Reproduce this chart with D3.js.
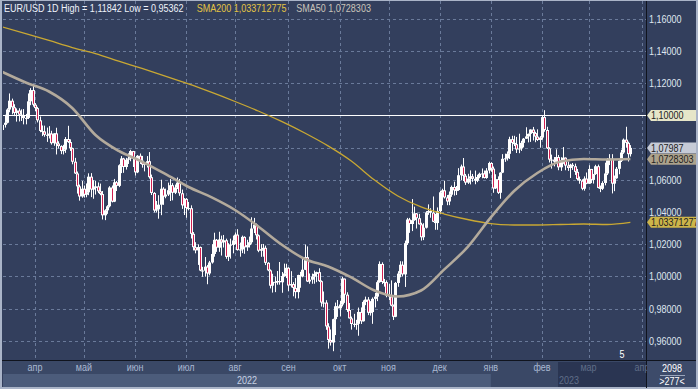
<!DOCTYPE html>
<html>
<head>
<meta charset="utf-8">
<script src="https://cdn.jsdelivr.net/npm/d3@7"></script>
<style>
html, body { margin: 0; padding: 0; background: #aab4c8; }
svg { display: block; font-family: "Liberation Sans", Arial, sans-serif; font-size: 11px; }
</style>
</head>
<body>
<svg width="698" height="389"></svg>
<script>
// EUR/USD daily, one row per week (Mon..Fri), from 14 Mar 2022
var open = [
	1.0910,1.0942,1.0955,1.1037,1.1092, 1.1051,1.1016,1.1031,1.1005,1.0997, 1.0984,1.0985,1.1088,1.1158,1.1067,
	1.1046,1.0970,1.0904,1.0901,1.0880, 1.0877,1.0888,1.0828,1.0889,1.0826, 1.0810,1.0779,1.0788,1.0854,1.0835,
	1.0797,1.0713,1.0640,1.0560,1.0497, 1.0545,1.0508,1.0523,1.0620,1.0540, 1.0550,1.0560,1.0529,1.0512,1.0380,
	1.0411,1.0436,1.0553,1.0465,1.0585, 1.0563,1.0691,1.0733,1.0680,1.0725, 1.0733,1.0779,1.0733,1.0647,1.0750,
	1.0719,1.0695,1.0703,1.0716,1.0617, 1.0519,1.0410,1.0417,1.0446,1.0545, 1.0497,1.0509,1.0536,1.0567,1.0520,
	1.0553,1.0583,1.0517,1.0442,1.0482, 1.0425,1.0424,1.0265,1.0182,1.0162, 1.0183,1.0037,1.0036,1.0061,1.0019,
	1.0087,1.0140,1.0228,1.0179,1.0230, 1.0212,1.0225,1.0122,1.0198,1.0196, 1.0224,1.0260,1.0164,1.0168,1.0246,
	1.0181,1.0195,1.0213,1.0298,1.0322, 1.0256,1.0160,1.0170,1.0178,1.0085, 1.0038,0.9943,0.9967,0.9967,0.9972,
	0.9964,1.0003,1.0019,1.0054,0.9944, 0.9953,0.9929,0.9903,1.0009,1.0001, 1.0042,1.0120,0.9969,0.9980,0.9999,
	1.0016,1.0027,0.9971,0.9838,0.9838, 0.9690,0.9606,0.9590,0.9735,0.9815, 0.9802,0.9826,0.9987,0.9887,0.9792,
	0.9740,0.9705,0.9706,0.9706,0.9780, 0.9722,0.9842,0.9857,0.9775,0.9779, 0.9861,0.9875,0.9965,1.0078,0.9966,
	0.9965,0.9882,0.9876,0.9819,0.9750, 0.9960,1.0018,1.0073,1.0013,1.0207, 1.0354,1.0326,1.0350,1.0392,1.0362,
	1.0324,1.0244,1.0303,1.0397,1.0407, 1.0397,1.0340,1.0332,1.0406,1.0523, 1.0535,1.0491,1.0466,1.0508,1.0556,
	1.0535,1.0537,1.0629,1.0683,1.0626, 1.0583,1.0608,1.0622,1.0607,1.0595, 1.0618,1.0638,1.0640,1.0612,1.0658,
	1.0705,1.0670,1.0547,1.0605,1.0520, 1.0645,1.0731,1.0734,1.0762,1.0853, 1.0830,1.0822,1.0789,1.0795,1.0830,
	1.0856,1.0870,1.0886,1.0913,1.0891, 1.0869,1.0848,1.0863,1.0990,1.0910, 1.0796,1.0726,1.0726,1.0713,1.0742,
	1.0678,1.0723,1.0738,1.0689,1.0674, 1.0694,1.0685,1.0650,1.0605,1.0595, 1.0545,1.0608,1.0576,1.0668,1.0600,
	1.0636,1.0685,1.0550,1.0545,1.0581, 1.0640,1.0730,1.0732,1.0577,1.0610, 1.0669,1.0718,1.0770,1.0850,1.0830,
	1.0760
];
var high = [
	1.0985,1.1005,1.1045,1.1137,1.1105, 1.1070,1.1044,1.1045,1.1038,1.1040, 1.1010,1.1137,1.1170,1.1184,1.1077,
	1.1054,1.0994,1.0938,1.0937,1.0925, 1.0934,1.0905,1.0890,1.0924,1.0840, 1.0815,1.0818,1.0866,1.0936,1.0852,
	1.0800,1.0737,1.0652,1.0571,1.0593, 1.0565,1.0578,1.0641,1.0642,1.0598, 1.0593,1.0584,1.0577,1.0531,1.0418,
	1.0443,1.0561,1.0565,1.0606,1.0593, 1.0697,1.0748,1.0737,1.0737,1.0765, 1.0787,1.0780,1.0737,1.0754,1.0764,
	1.0749,1.0710,1.0748,1.0773,1.0633, 1.0524,1.0469,1.0505,1.0601,1.0555, 1.0546,1.0583,1.0606,1.0580,1.0571,
	1.0615,1.0606,1.0540,1.0487,1.0487, 1.0463,1.0442,1.0276,1.0213,1.0200, 1.0186,1.0060,1.0121,1.0072,1.0097,
	1.0201,1.0272,1.0233,1.0278,1.0254, 1.0258,1.0235,1.0207,1.0235,1.0254, 1.0274,1.0294,1.0211,1.0254,1.0250,
	1.0228,1.0248,1.0368,1.0364,1.0329, 1.0261,1.0201,1.0202,1.0192,1.0089, 1.0044,1.0017,0.9999,1.0034,1.0090,
	1.0028,1.0080,1.0079,1.0058,1.0033, 0.9965,0.9990,1.0011,1.0029,1.0113, 1.0198,1.0187,1.0019,1.0018,1.0037,
	1.0030,1.0051,0.9976,0.9907,0.9853, 0.9710,0.9671,0.9738,0.9838,0.9854, 0.9849,0.9999,0.9987,0.9902,0.9835,
	0.9751,0.9768,0.9731,0.9807,0.9808, 0.9852,0.9875,0.9872,0.9847,0.9870, 0.9898,0.9976,1.0094,1.0088,0.9985,
	0.9976,0.9953,0.9976,0.9826,0.9966, 1.0033,1.0095,1.0094,1.0223,1.0364, 1.0364,1.0481,1.0434,1.0394,1.0389,
	1.0334,1.0331,1.0406,1.0448,1.0424, 1.0497,1.0389,1.0429,1.0533,1.0545, 1.0595,1.0506,1.0528,1.0565,1.0589,
	1.0562,1.0673,1.0695,1.0736,1.0637, 1.0638,1.0659,1.0637,1.0658,1.0632, 1.0645,1.0671,1.0658,1.0673,1.0713,
	1.0710,1.0683,1.0635,1.0622,1.0648, 1.0760,1.0763,1.0777,1.0868,1.0874, 1.0874,1.0867,1.0887,1.0843,1.0860,
	1.0927,1.0888,1.0914,1.0929,1.0899, 1.0914,1.0872,1.1000,1.1033,1.0930, 1.0803,1.0757,1.0742,1.0790,1.0755,
	1.0741,1.0804,1.0740,1.0714,1.0700, 1.0705,1.0701,1.0668,1.0621,1.0604, 1.0622,1.0646,1.0691,1.0668,1.0637,
	1.0694,1.0695,1.0565,1.0592,1.0707, 1.0736,1.0760,1.0760,1.0627,1.0680, 1.0721,1.0787,1.0857,1.0930,1.0838,
	1.0816
];
var low = [
	1.0908,1.0925,1.0951,1.1020,1.1007, 1.0996,1.0962,1.0963,1.0966,1.0945, 1.0945,1.0978,1.1064,1.1055,1.1028,
	1.0957,1.0896,1.0872,1.0868,1.0836, 1.0857,1.0819,1.0812,1.0758,1.0795, 1.0760,1.0758,1.0768,1.0830,1.0780,
	1.0697,1.0637,1.0515,1.0471,1.0489, 1.0490,1.0492,1.0505,1.0493,1.0483, 1.0509,1.0518,1.0505,1.0354,1.0350,
	1.0389,1.0429,1.0460,1.0462,1.0531, 1.0555,1.0642,1.0644,1.0664,1.0699, 1.0716,1.0680,1.0627,1.0642,1.0699,
	1.0676,1.0653,1.0677,1.0608,1.0506, 1.0398,1.0397,1.0359,1.0381,1.0445, 1.0486,1.0500,1.0469,1.0473,1.0512,
	1.0543,1.0501,1.0420,1.0382,1.0365, 1.0411,1.0236,1.0162,1.0144,1.0072, 1.0033,0.9998,0.9999,0.9952,1.0007,
	1.0080,1.0123,1.0153,1.0153,1.0130, 1.0180,1.0110,1.0096,1.0111,1.0144, 1.0200,1.0161,1.0123,1.0145,1.0141,
	1.0159,1.0180,1.0203,1.0270,1.0230, 1.0151,1.0122,1.0123,1.0071,1.0033, 0.9926,0.9900,0.9903,0.9949,0.9949,
	0.9899,0.9998,0.9990,0.9910,0.9932, 0.9877,0.9864,0.9864,0.9930,0.9995, 1.0040,0.9966,0.9955,0.9955,0.9955,
	0.9965,0.9966,0.9813,0.9808,0.9669, 0.9552,0.9571,0.9536,0.9636,0.9749, 0.9752,0.9814,0.9836,0.9780,0.9739,
	0.9670,0.9685,0.9669,0.9632,0.9705, 0.9720,0.9822,0.9760,0.9757,0.9706, 0.9808,0.9847,0.9961,0.9953,0.9937,
	0.9871,0.9852,0.9815,0.9730,0.9747, 0.9936,0.9995,1.0000,0.9935,1.0196, 1.0271,1.0282,1.0346,1.0298,1.0323,
	1.0223,1.0226,1.0298,1.0383,1.0365, 1.0338,1.0290,1.0290,1.0387,1.0443, 1.0484,1.0443,1.0443,1.0495,1.0503,
	1.0506,1.0532,1.0599,1.0593,1.0569, 1.0575,1.0572,1.0588,1.0573,1.0586, 1.0610,1.0610,1.0609,1.0607,1.0640,
	1.0651,1.0520,1.0543,1.0513,1.0483, 1.0642,1.0712,1.0720,1.0730,1.0780, 1.0810,1.0767,1.0766,1.0780,1.0802,
	1.0855,1.0833,1.0836,1.0845,1.0834, 1.0842,1.0800,1.0850,1.0899,1.0792, 1.0708,1.0670,1.0684,1.0700,1.0660,
	1.0656,1.0700,1.0660,1.0656,1.0612, 1.0662,1.0631,1.0596,1.0576,1.0536, 1.0533,1.0573,1.0576,1.0580,1.0577,
	1.0631,1.0547,1.0524,1.0537,1.0566, 1.0630,1.0692,1.0516,1.0530,1.0607, 1.0635,1.0711,1.0762,1.0800,1.0714,
	1.0745
];
var close = [
	1.0942,1.0955,1.1037,1.1092,1.1051, 1.1016,1.1031,1.1005,1.0997,1.0984, 1.0985,1.1088,1.1158,1.1067,1.1046,
	1.0970,1.0904,1.0901,1.0880,1.0877, 1.0888,1.0828,1.0889,1.0826,1.0810, 1.0779,1.0788,1.0854,1.0835,1.0797,
	1.0713,1.0640,1.0560,1.0497,1.0545, 1.0508,1.0523,1.0620,1.0540,1.0550, 1.0560,1.0529,1.0512,1.0380,1.0411,
	1.0436,1.0553,1.0465,1.0585,1.0563, 1.0691,1.0733,1.0680,1.0725,1.0733, 1.0779,1.0733,1.0647,1.0750,1.0719,
	1.0695,1.0703,1.0716,1.0617,1.0519, 1.0410,1.0417,1.0446,1.0545,1.0497, 1.0509,1.0536,1.0567,1.0520,1.0553,
	1.0583,1.0517,1.0442,1.0482,1.0425, 1.0424,1.0265,1.0182,1.0162,1.0183, 1.0037,1.0036,1.0061,1.0019,1.0087,
	1.0140,1.0228,1.0179,1.0230,1.0212, 1.0225,1.0122,1.0198,1.0196,1.0224, 1.0260,1.0164,1.0168,1.0246,1.0181,
	1.0195,1.0213,1.0298,1.0322,1.0256, 1.0160,1.0170,1.0178,1.0085,1.0038, 0.9943,0.9967,0.9967,0.9972,0.9964,
	1.0003,1.0019,1.0054,0.9944,0.9953, 0.9929,0.9903,1.0009,1.0001,1.0042, 1.0120,0.9969,0.9980,0.9999,1.0016,
	1.0027,0.9971,0.9838,0.9838,0.9690, 0.9606,0.9590,0.9735,0.9815,0.9802, 0.9826,0.9987,0.9887,0.9792,0.9740,
	0.9705,0.9706,0.9706,0.9780,0.9722, 0.9842,0.9857,0.9775,0.9779,0.9861, 0.9875,0.9965,1.0078,0.9966,0.9965,
	0.9882,0.9876,0.9819,0.9750,0.9960, 1.0018,1.0073,1.0013,1.0207,1.0354, 1.0326,1.0350,1.0392,1.0362,1.0324,
	1.0244,1.0303,1.0397,1.0407,1.0397, 1.0340,1.0332,1.0406,1.0523,1.0535, 1.0491,1.0466,1.0508,1.0556,1.0535,
	1.0537,1.0629,1.0683,1.0626,1.0583, 1.0608,1.0622,1.0607,1.0595,1.0618, 1.0638,1.0640,1.0612,1.0658,1.0705,
	1.0670,1.0547,1.0605,1.0520,1.0645, 1.0731,1.0734,1.0762,1.0853,1.0830, 1.0822,1.0789,1.0795,1.0830,1.0856,
	1.0870,1.0886,1.0913,1.0891,1.0869, 1.0848,1.0863,1.0990,1.0910,1.0796, 1.0726,1.0726,1.0713,1.0742,1.0678,
	1.0723,1.0738,1.0689,1.0674,1.0694, 1.0685,1.0650,1.0605,1.0595,1.0545, 1.0608,1.0576,1.0668,1.0600,1.0636,
	1.0685,1.0550,1.0545,1.0581,1.0640, 1.0730,1.0732,1.0577,1.0610,1.0669, 1.0718,1.0770,1.0850,1.0830,1.0760,
	1.0799
];

// moving averages, one value every 10 candles
var smaStep = 10;
var sma50 = [1.1270,1.1205,1.1149,1.1047,1.0879,1.0780,1.0714,1.0637,1.0556,1.0491,1.0413,1.0311,1.0199,1.0109,
	1.0062,0.9994,0.9913,0.9876,0.9913,1.0044,1.0183,1.0367,1.0531,1.0643,1.0714,1.0730,1.0727,1.0730];
var sma200 = [1.1550,1.1509,1.1466,1.1422,1.1385,1.1338,1.1292,1.1245,1.1196,1.1143,1.1087,1.1028,1.0963,1.0891,
	1.0811,1.0717,1.0599,1.0500,1.0432,1.0388,1.0354,1.0329,1.0320,1.0320,1.0323,1.0326,1.0323,1.0336];

var priceTicks = [0.96, 0.98, 1.00, 1.02, 1.04, 1.06, 1.08, 1.10, 1.12, 1.14, 1.16];
var monthNames = ["янв","фев","мар","апр","май","июн","июл","авг","сен","окт","ноя","дек"];
var levelLine = 1.10;
var lastPrice = 1.07987;
var sma50Last = 1.0728303;
var sma200Last = 1.033712775;
var rangeHigh = 1.11842, rangeLow = 0.95362;
var barsTotal = 2098, barsShown = 277;

var svg = d3.select("svg"),
	width = +svg.attr("width"),
	height = +svg.attr("height");

var plot = {left: 3, right: 646, top: 1, bottom: 360};
var comma = function(v) { return d3.format(".5f")(v).replace(".", ","); };
var narrow = 0.82;   // terminal font is a narrow sans
function put(sel, px, py) {
	return sel.attr("transform", function(d, i) {
		var xx = typeof px == "function" ? px(d, i) : px;
		var yy = typeof py == "function" ? py(d, i) : py;
		return "translate(" + xx + "," + yy + ") scale(" + narrow + ",1)";
	});
}

var N = close.length;
// trading days Mon..Fri, a few extra so the April 2023 tick exists
var days = [];
for (var d = new Date(2022, 2, 14); days.length < N + 6; d.setDate(d.getDate() + 1)) {
	if (d.getDay() > 0 && d.getDay() < 6) days.push(new Date(d));
}
var candles = d3.range(N).map(function(i) {
	return {i: i, o: open[i], h: high[i], l: low[i], c: close[i]};
});

var x = d3.scaleLinear().domain([14, 275]).range([35, 642]);
var y = d3.scaleLinear().domain([0.96, 1.16]).range([340.9, 18.9]);

// background + frame
svg.append("rect").attr("width", width).attr("height", height).attr("fill", "#aab4c8");
svg.append("rect").attr("x", 2).attr("y", 1).attr("width", width - 4).attr("height", height - 3).attr("fill", "#333f5d");

svg.append("defs").append("clipPath").attr("id", "plotclip")
	.append("rect").attr("x", plot.left).attr("y", plot.top)
	.attr("width", plot.right - plot.left).attr("height", plot.bottom - plot.top);

var g = svg.append("g").attr("clip-path", "url(#plotclip)");

// month starts
var monthStarts = d3.range(1, days.length).filter(function(i) {
	return days[i].getMonth() != days[i - 1].getMonth();
});

// grid
g.append("g").selectAll("line").data(priceTicks).enter().append("line")
	.attr("x1", plot.left).attr("x2", plot.right)
	.attr("y1", function(d) { return Math.round(y(d)) + 0.5; })
	.attr("y2", function(d) { return Math.round(y(d)) + 0.5; })
	.attr("stroke", "#6a7a9a").attr("stroke-dasharray", "3,3");
g.append("g").selectAll("line").data(monthStarts).enter().append("line")
	.attr("x1", function(d) { return Math.round(x(d)) + 0.5; })
	.attr("x2", function(d) { return Math.round(x(d)) + 0.5; })
	.attr("y1", plot.top).attr("y2", plot.bottom)
	.attr("stroke", "#6a7a9a").attr("stroke-dasharray", "3,3");

// 1.10 level
g.append("line")
	.attr("x1", plot.left).attr("x2", plot.right)
	.attr("y1", Math.round(y(levelLine)) + 0.5).attr("y2", Math.round(y(levelLine)) + 0.5)
	.attr("stroke", "#ffffff").attr("stroke-width", 1);

// candles
var cg = g.append("g");
cg.selectAll(".wick").data(candles).enter().append("line")
	.attr("class", "wick")
	.attr("x1", function(d) { return Math.round(x(d.i)) + 0.5; })
	.attr("x2", function(d) { return Math.round(x(d.i)) + 0.5; })
	.attr("y1", function(d) { return y(d.h); })
	.attr("y2", function(d) { return y(d.l); })
	.attr("stroke", "#ffffff").attr("stroke-width", 1);
cg.selectAll(".body").data(candles).enter().append("rect")
	.attr("class", "body")
	.attr("x", function(d) { return Math.round(x(d.i)) - 1; })
	.attr("width", 3)
	.attr("y", function(d) { return y(Math.max(d.o, d.c)); })
	.attr("height", function(d) { return Math.max(1, Math.abs(y(d.o) - y(d.c))); })
	.attr("fill", "#ffffff");
cg.selectAll(".bear").data(candles.filter(function(d) { return d.c < d.o; })).enter().append("rect")
	.attr("class", "bear")
	.attr("x", function(d) { return Math.round(x(d.i)); })
	.attr("width", 1)
	.attr("y", function(d) { return y(d.o) + 1; })
	.attr("height", function(d) { return Math.max(0, y(d.c) - y(d.o) - 2); })
	.attr("fill", "#d01f50");

// moving averages
var smaLine = d3.line()
	.x(function(d, i) { return x(Math.min(i * smaStep, N - 1)); })
	.y(function(d) { return y(d); })
	.curve(d3.curveMonotoneX);
g.append("path").datum(sma200).attr("d", smaLine)
	.attr("fill", "none").attr("stroke", "#c9a833").attr("stroke-width", 1.3);
g.append("path").datum(sma50).attr("d", smaLine)
	.attr("fill", "none").attr("stroke", "#b3aa9c").attr("stroke-width", 2.6);

// header
var head = put(svg.append("text"), 4, 12);
head.append("tspan").attr("fill", "#eef2fa")
	.text("EUR/USD 1D High = " + comma(rangeHigh) + " Low = " + comma(rangeLow));
head.append("tspan").attr("dx", 16).attr("fill", "#e3c443")
	.text("SMA200 " + String(sma200Last).replace(".", ","));
head.append("tspan").attr("dx", 12).attr("fill", "#c9c4ba")
	.text("SMA50 " + String(sma50Last).replace(".", ","));

// value tags
var tags = [
	{v: levelLine, label: comma(levelLine), fill: "#e6e6c9"},
	{v: lastPrice, label: comma(lastPrice), fill: "#c6cbd7"},
	{v: sma50Last, label: String(sma50Last).replace(".", ","), fill: "#ada28c"},
	{v: sma200Last, label: String(sma200Last).replace(".", ","), fill: "#cdb54a"}
];

// right price axis, labels hidden where a tag sits on them
svg.append("line").attr("x1", plot.right + 0.5).attr("x2", plot.right + 0.5)
	.attr("y1", 1).attr("y2", 388).attr("stroke", "#10141e");
put(svg.append("g").selectAll("text")
	.data(priceTicks.filter(function(t) {
		return tags.every(function(tg) { return Math.abs(y(t) - y(tg.v)) > 8; });
	}))
	.enter().append("text"), 649, function(d) { return y(d); })
	.attr("dy", "0.35em").attr("fill", "#dfe5f0").text(comma);

svg.append("defs").append("clipPath").attr("id", "tagclip")
	.append("rect").attr("x", 646).attr("y", 0).attr("width", 50).attr("height", 389);
var tg = svg.append("g").attr("clip-path", "url(#tagclip)").selectAll("g").data(tags).enter().append("g")
	.attr("transform", function(d) { return "translate(0," + y(d.v) + ")"; });
tg.append("path")
	.attr("d", "M647,0L651,-5.5L696,-5.5L696,5.5L651,5.5Z")
	.attr("fill", function(d) { return d.fill; });
put(tg.append("text"), 651, 0).attr("dy", "0.35em").attr("fill", "#222222")
	.text(function(d) { return d.label; });

// bottom time axis
var ax = svg.append("g");
ax.append("line").attr("x1", 2).attr("x2", 696).attr("y1", plot.bottom + 0.5).attr("y2", plot.bottom + 0.5)
	.attr("stroke", "#10141e");
ax.append("rect").attr("x", plot.left).attr("y", 361).attr("width", plot.right - plot.left).attr("height", 26)
	.attr("fill", "#3a4866");
var jan2023 = monthStarts.filter(function(i) { return days[i].getFullYear() == 2023; })[0];
ax.append("rect").attr("x", plot.left).attr("y", 374).attr("width", x(jan2023) - plot.left).attr("height", 13)
	.attr("fill", "#4c5c7b");
put(ax.append("text"), (plot.left + x(jan2023)) / 2, 384).attr("text-anchor", "middle")
	.attr("fill", "#c8d2e4").text("2022");
var dimFrom = 558;
put(ax.selectAll(".mlab").data(monthStarts.filter(function(d) { return x(d) < dimFrom; })).enter().append("text")
	.attr("class", "mlab"), function(d) { return x(d); }, 371)
	.attr("text-anchor", "middle").attr("fill", "#a9b8d2")
	.text(function(d) { return monthNames[days[d].getMonth()]; });
// dimmed tail of the scale
ax.append("rect").attr("x", dimFrom).attr("y", 362).attr("width", plot.right - dimFrom).attr("height", 25)
	.attr("fill", "#2a3552");
put(ax.selectAll(".mdim").data(monthStarts.filter(function(d) { return x(d) > dimFrom; })).enter().append("text")
	.attr("class", "mdim"), function(d) { return x(d); }, 371)
	.attr("text-anchor", "middle").attr("fill", "#5f6d88")
	.text(function(d) { return monthNames[days[d].getMonth()]; });
put(ax.append("text"), dimFrom + 1, 384).attr("fill", "#5f6d88").text("2023");

// bar counter box
svg.append("rect").attr("x", 647).attr("y", 361).attr("width", 49).attr("height", 26).attr("fill", "#3d4b6a");
put(svg.append("text"), 672, 372).attr("text-anchor", "middle").attr("fill", "#ffffff").text(barsTotal);
svg.append("line").attr("x1", 660).attr("x2", 685).attr("y1", 375.5).attr("y2", 375.5).attr("stroke", "#9aa6bc");
put(svg.append("text"), 672, 385).attr("text-anchor", "middle").attr("fill", "#ffffff")
	.text(">" + barsShown + "<");

put(svg.append("text"), 622, 358).attr("text-anchor", "middle").attr("fill", "#ffffff").text("5");
</script>
</body>
</html>
